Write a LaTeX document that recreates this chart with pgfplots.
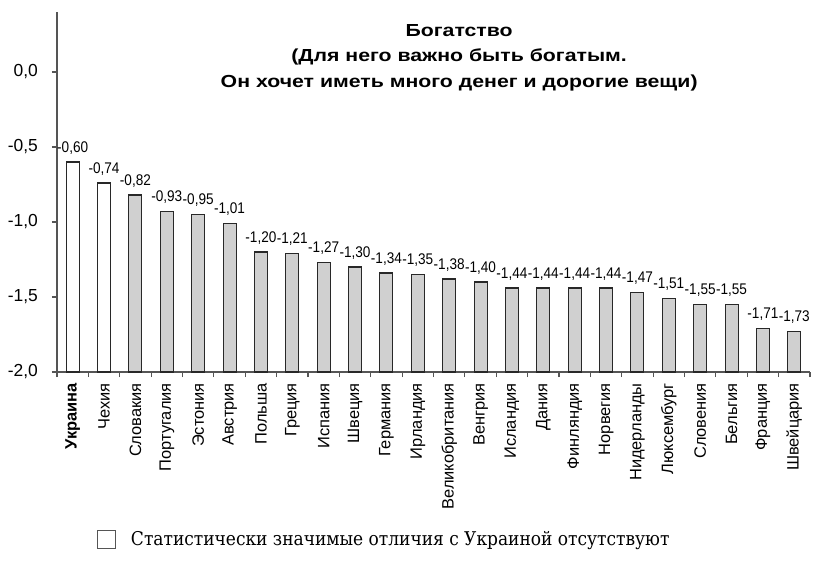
\documentclass[border=0pt]{standalone}
\usepackage{pgfplots}
\pgfplotsset{compat=1.18}
\usepackage{fontspec}
\setmainfont{Liberation Sans}
\newfontfamily\legfont{DejaVu Serif Condensed}
\newfontfamily\titlefont{Liberation Sans}[FakeStretch=1.22]
\newfontfamily\narrowfont{Liberation Sans}[FakeStretch=0.88]
\definecolor{bargray}{RGB}{208,208,208}
\definecolor{edge}{RGB}{40,40,40}
\definecolor{axgray}{RGB}{85,85,85}
\begin{document}
\begin{tikzpicture}
\useasboundingbox (-57bp,-201bp) rectangle (759bp,372bp);
\begin{axis}[
  at={(0,0)}, anchor=south west,
  scale only axis, width=753bp, height=360bp,
  xmin=-0.5, xmax=23.5, ymin=0, ymax=2.4,
  y filter/.expression={y+2},
  clip=false,
  axis x line*=bottom, axis y line*=left,
  axis line style={draw=axgray, line width=1.3bp},
  every tick/.style={draw=axgray, line width=1.2bp},
  tick align=outside,
  major tick length=5bp, minor tick length=5bp,
  ytick={0,0.5,1,1.5,2},
  yticklabels={{-2,0},{-1,5},{-1,0},{-0,5},{0,0}},
  yticklabel style={font=\fontsize{17.5}{20}\selectfont, inner sep=0pt, anchor=east, xshift=-14bp},
  xtick={0,...,23},
  every major x tick/.append style={draw=none},
  minor xtick={-0.5,0.5,...,23.5},
  xticklabels={\textbf{Украина},Чехия,Словакия,Португалия,Эстония,Австрия,Польша,Греция,Испания,Швеция,Германия,Ирландия,Великобритания,Венгрия,Исландия,Дания,Финляндия,Норвегия,Нидерланды,Люксембург,Словения,Бельгия,Франция,Швейцария},
  xticklabel style={rotate=90, anchor=east, inner sep=0pt, font=\fontsize{16.5}{18}\selectfont, xshift=-6bp},
  nodes near coords,
  point meta=explicit symbolic,
  every node near coord/.append style={font=\narrowfont\fontsize{15.5}{17}\selectfont, anchor=base, inner sep=0pt, yshift=10bp},
  legend style={at={(0.0531,-0.4639)}, anchor=west, draw=none, fill=none, inner sep=0pt,
    font=\legfont\fontsize{19}{22}\selectfont, nodes={inner sep=0pt}},
  legend image code/.code={\draw[fill=white, draw=axgray, line width=0.8bp] (0bp,-9bp) rectangle (18bp,9bp);},
  /tikz/every odd column/.append style={column sep=15bp},
]
\addplot[ybar, bar width=13bp, bar shift=0pt, fill=white, draw=edge, line width=1.1bp]
  coordinates {(0,-0.60) [-0,60] (1,-0.74) [-0,74]};
\addlegendentry{Статистически значимые отличия с Украиной отсутствуют}
\addplot[ybar, bar width=13bp, bar shift=0pt, fill=bargray, draw=edge, line width=1.1bp, forget plot]
  coordinates {
  (2,-0.82) [-0,82]
  (3,-0.93) [-0,93]
  (4,-0.95) [-0,95]
  (5,-1.01) [-1,01]
  (6,-1.20) [-1,20]
  (7,-1.21) [-1,21]
  (8,-1.27) [-1,27]
  (9,-1.30) [-1,30]
  (10,-1.34) [-1,34]
  (11,-1.35) [-1,35]
  (12,-1.38) [-1,38]
  (13,-1.40) [-1,40]
  (14,-1.44) [-1,44]
  (15,-1.44) [-1,44]
  (16,-1.44) [-1,44]
  (17,-1.44) [-1,44]
  (18,-1.47) [-1,47]
  (19,-1.51) [-1,51]
  (20,-1.55) [-1,55]
  (21,-1.55) [-1,55]
  (22,-1.71) [-1,71]
  (23,-1.73) [-1,73]
  };
\node[align=center, font=\titlefont\bfseries\fontsize{17.5}{26}\selectfont] at (axis description cs:0.534,0.873)
  {Богатство\\(Для него важно быть богатым.\\Он хочет иметь много денег и дорогие вещи)};
\end{axis}
\end{tikzpicture}
\end{document}
